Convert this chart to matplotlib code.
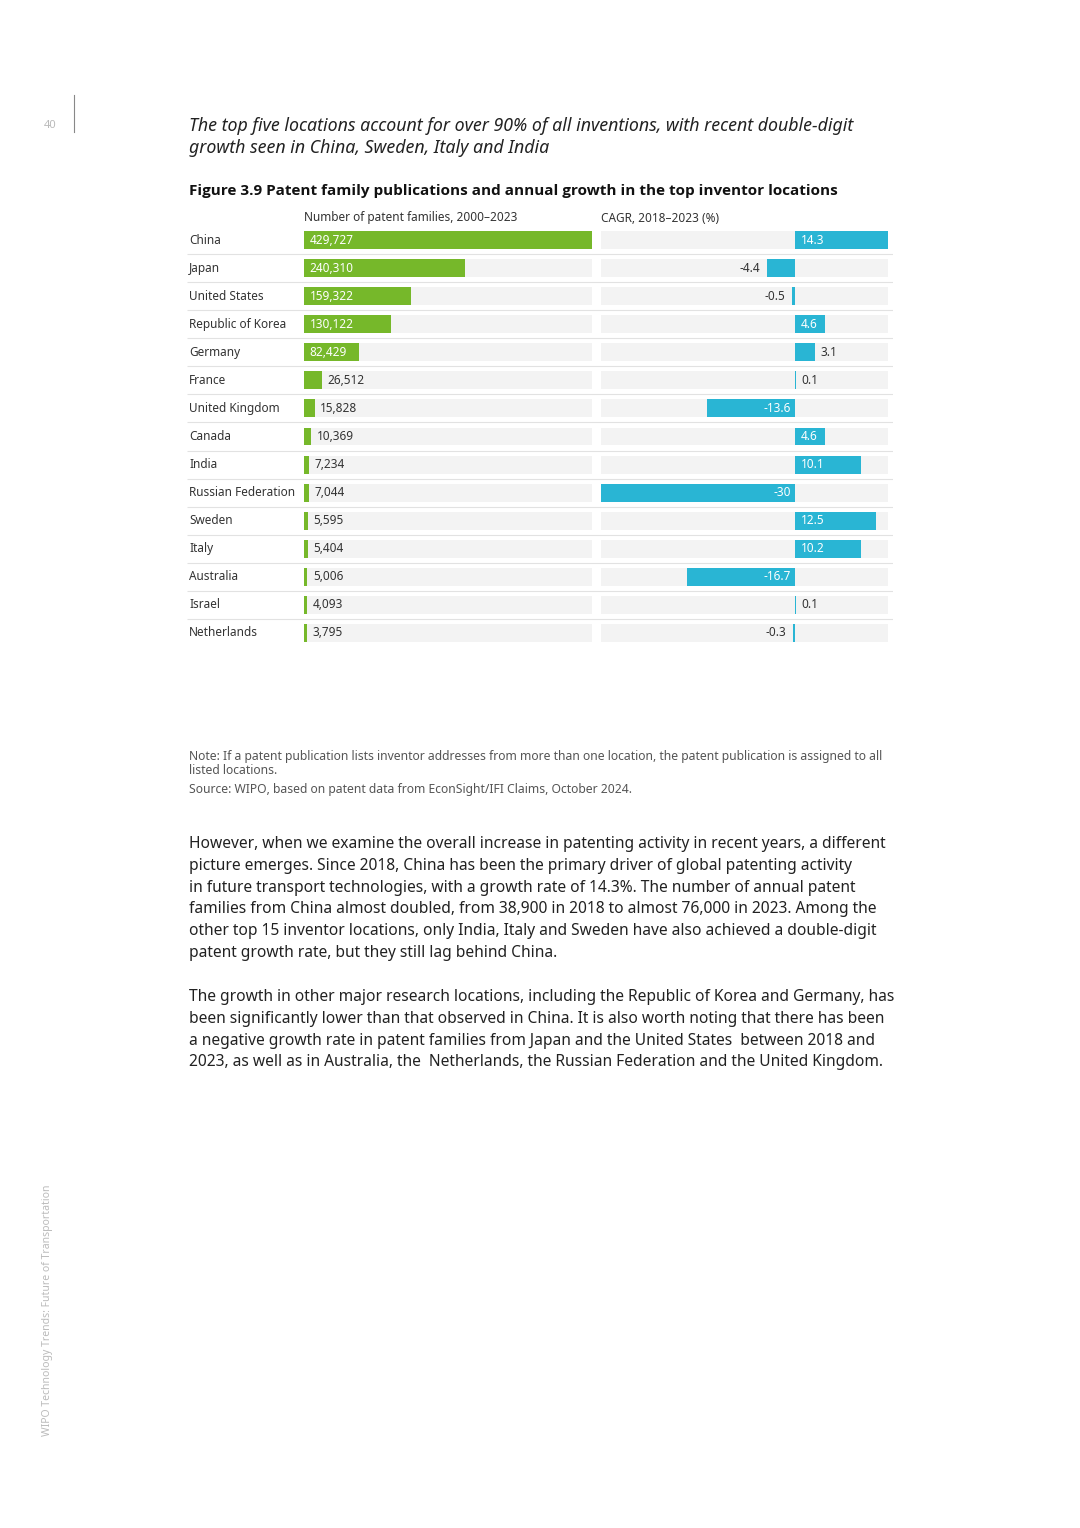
import numpy as np
import matplotlib
matplotlib.use("Agg")
import matplotlib.pyplot as plt

plt.rcParams['font.family'] = ['Noto Sans', 'DejaVu Sans']

countries = ["China", "Japan", "United States", "Republic of Korea", "Germany",
             "France", "United Kingdom", "Canada", "India", "Russian Federation",
             "Sweden", "Italy", "Australia", "Israel", "Netherlands"]
families = [429727, 240310, 159322, 130122, 82429, 26512, 15828, 10369,
            7234, 7044, 5595, 5404, 5006, 4093, 3795]
cagr = [14.3, -4.4, -0.5, 4.6, 3.1, 0.1, -13.6, 4.6, 10.1, -30,
        12.5, 10.2, -16.7, 0.1, -0.3]
cagr_labels = ["14.3", "-4.4", "-0.5", "4.6", "3.1", "0.1", "-13.6", "4.6",
               "10.1", "-30", "12.5", "10.2", "-16.7", "0.1", "-0.3"]

W, H = 1080, 1528
GREEN = "#76b82a"
BLUE = "#29b5d4"
BG = "#f3f3f3"
DARK = "#333333"

fig = plt.figure(figsize=(W / 100, H / 100), dpi=100)
fig.patch.set_facecolor("white")


def box(x0, y0, x1, y1):
    # pixel box (top-left origin) -> figure fraction rect
    return [x0 / W, 1 - y1 / H, (x1 - x0) / W, (y1 - y0) / H]


def ftext(x, y, s, **kw):
    kw.setdefault("va", "center")
    fig.text(x / W, 1 - y / H, s, **kw)


n = len(countries)
rows = np.arange(n)
top, bottom = 226, 647
bh = 0.64

# separators behind everything
ax_bg = fig.add_axes(box(187, top, 893, bottom))
ax_bg.set_xlim(0, 1)
ax_bg.set_ylim(n - 0.5, -0.5)
ax_bg.hlines(rows[:-1] + 0.5, 0, 1, color="#e2e2e2", lw=0.8)
ax_bg.axis("off")

# left panel: number of patent families
axl = fig.add_axes(box(304, top, 592, bottom))
xmax = max(families)
axl.barh(rows, [xmax] * n, height=bh, color=BG)
axl.barh(rows, families, height=bh, color=GREEN)
axl.set_xlim(0, xmax)
axl.set_ylim(n - 0.5, -0.5)
axl.axis("off")
for i, v in enumerate(families):
    lab = f"{v:,}"
    if v > 50000:
        axl.annotate(lab, (0, i), xytext=(4, 0), textcoords="offset points",
                     va="center", ha="left", color="white", fontsize=8.5)
    else:
        axl.annotate(lab, (v, i), xytext=(4, 0), textcoords="offset points",
                     va="center", ha="left", color=DARK, fontsize=8.5)

# right panel: CAGR
axr = fig.add_axes(box(601, top, 888, bottom))
lo, hi = min(cagr), max(cagr)
axr.barh(rows, [hi - lo] * n, left=lo, height=bh, color=BG)
axr.barh(rows, cagr, height=bh, color=BLUE)
axr.set_xlim(lo, hi)
axr.set_ylim(n - 0.5, -0.5)
axr.axis("off")
for i, (v, lab) in enumerate(zip(cagr, cagr_labels)):
    if abs(v) >= 4.5:
        if v > 0:
            axr.annotate(lab, (0, i), xytext=(4, 0), textcoords="offset points",
                         va="center", ha="left", color="white", fontsize=8.5)
        else:
            axr.annotate(lab, (0, i), xytext=(-3, 0), textcoords="offset points",
                         va="center", ha="right", color="white", fontsize=8.5)
    else:
        if v > 0:
            axr.annotate(lab, (v, i), xytext=(4, 0), textcoords="offset points",
                         va="center", ha="left", color=DARK, fontsize=8.5)
        else:
            axr.annotate(lab, (v, i), xytext=(-5, 0), textcoords="offset points",
                         va="center", ha="right", color=DARK, fontsize=8.5)

# country labels
for i, c in enumerate(countries):
    ftext(189, 240 + i * (bottom - top) / n, c, ha="left", color=DARK, fontsize=8.5)

# column headers
ftext(304, 218, "Number of patent families, 2000\u20132023", ha="left", color=DARK, fontsize=8.5)
ftext(601, 218, "CAGR, 2018\u20132023 (%)", ha="left", color=DARK, fontsize=8.5)

# page furniture
ftext(50, 126, "40", ha="center", color="#bbbbbb", fontsize=8)
fig.add_artist(plt.Line2D([74 / W, 74 / W], [1 - 95 / H, 1 - 132 / H], color="#888888", lw=0.8))
fig.text(48 / W, 1 - 1310 / H, "WIPO Technology Trends: Future of Transportation",
         rotation=90, ha="center", va="center", color="#bbbbbb", fontsize=7.5)

# headline
ftext(189, 126, "The top five locations account for over 90% of all inventions, with recent double-digit",
      ha="left", color="#222222", fontsize=12.8, style="italic")
ftext(189, 148, "growth seen in China, Sweden, Italy and India",
      ha="left", color="#222222", fontsize=12.8, style="italic")
ftext(189, 191, "Figure 3.9 Patent family publications and annual growth in the top inventor locations",
      ha="left", color="#111111", fontsize=11, weight="bold",
      family=["Open Sans", "DejaVu Sans"])

# notes
ftext(189, 756, "Note: If a patent publication lists inventor addresses from more than one location, "
      "the patent publication is assigned to all", ha="left", color="#555555", fontsize=8.75)
ftext(189, 770, "listed locations.", ha="left", color="#555555", fontsize=8.75)
ftext(189, 790, "Source: WIPO, based on patent data from EconSight/IFI Claims, October 2024.",
      ha="left", color="#555555", fontsize=8.75)

para1 = [
    "However, when we examine the overall increase in patenting activity in recent years, a different",
    "picture emerges. Since 2018, China has been the primary driver of global patenting activity",
    "in future transport technologies, with a growth rate of 14.3%. The number of annual patent",
    "families from China almost doubled, from 38,900 in 2018 to almost 76,000 in 2023. Among the",
    "other top 15 inventor locations, only India, Italy and Sweden have also achieved a double-digit",
    "patent growth rate, but they still lag behind China.",
]
para2 = [
    "The growth in other major research locations, including the Republic of Korea and Germany, has",
    "been significantly lower than that observed in China. It is also worth noting that there has been",
    "a negative growth rate in patent families from Japan and the United States  between 2018 and",
    "2023, as well as in Australia, the  Netherlands, the Russian Federation and the United Kingdom.",
]
for k, line in enumerate(para1):
    ftext(189, 844 + k * 21.8, line, ha="left", color="#222222", fontsize=11.2)
for k, line in enumerate(para2):
    ftext(189, 997 + k * 21.8, line, ha="left", color="#222222", fontsize=11.2)

fig.savefig("out.png", dpi=100)
